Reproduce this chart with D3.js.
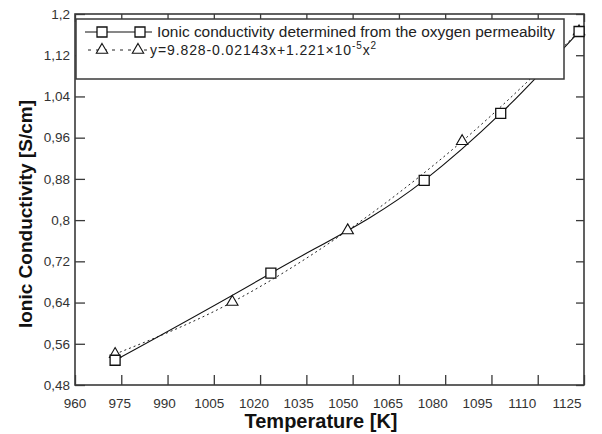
<!DOCTYPE html>
<html><head><meta charset="utf-8">
<script src="https://cdn.jsdelivr.net/npm/d3@7"></script>
<style>
body{margin:0;background:#fff}
svg{display:block}
text{font-family:"Liberation Sans",Arial,Helvetica,sans-serif}
</style>
</head><body><svg id="c" width="602" height="434"></svg>
<script>
// ---- data ----
const measuredT = [973, 1023.5, 1073.2, 1098, 1123.4];
const measuredSigma = [0.528, 0.697, 0.877, 1.007, 1.166];
const fitT = [973, 1011, 1048.4, 1085.5, 1123.4];
const fitSigma = [0.54, 0.641, 0.78, 0.953, 1.166];
const xTicks = [960, 975, 990, 1005, 1020, 1035, 1050, 1065, 1080, 1095, 1110, 1125];
const yTicks = [0.48, 0.56, 0.64, 0.72, 0.8, 0.88, 0.96, 1.04, 1.12, 1.2];
const yTickLabels = ["0,48", "0,56", "0,64", "0,72", "0,8", "0,88", "0,96", "1,04", "1,12", "1,2"];
const legendLabel1 = "Ionic conductivity determined from the oxygen permeabilty";
const legendLabel2 = ["y=9.828-0.02143x+1.221\u00d710", "-5", "x", "2"];
const xTitle = "Temperature [K]";
const yTitle = "Ionic Conductivity [S/cm]";

// ---- layout ----
const L = 75, R = 584, T = 14, B = 385;
const svg = d3.select("#c");
svg.append("rect").attr("width", 602).attr("height", 434).attr("fill", "#fff");

const x = d3.scaleLinear().domain([960, 1125]).range([L, R]);
const xLab = d3.scaleLinear().domain([960, 1125]).range([L, 567]);
const y = d3.scaleLinear().domain([0.48, 1.2]).range([B, T]);

const axisColor = "#3a3a3a";
function styleAxis(g) {
  g.select(".domain").remove();
  g.selectAll(".tick line").attr("stroke", axisColor).attr("stroke-width", 1.3);
}

svg.append("g").attr("transform", `translate(0,${B})`)
  .call(d3.axisBottom(x).tickValues(xTicks).tickSize(-10).tickFormat(""))
  .call(styleAxis);
svg.append("g").attr("transform", `translate(0,${T})`)
  .call(d3.axisTop(x).tickValues(xTicks).tickSize(-8).tickFormat(""))
  .call(styleAxis);
svg.append("g").attr("transform", `translate(${L},0)`)
  .call(d3.axisLeft(y).tickValues(yTicks).tickSize(-10).tickPadding(5)
    .tickFormat((d, i) => yTickLabels[i]))
  .call(styleAxis)
  .call(g => g.selectAll("text").attr("fill", "#333").attr("font-size", 13.5)
    .style("font-family", '"Liberation Sans",Arial,sans-serif'));
svg.append("g").attr("transform", `translate(${R},0)`)
  .call(d3.axisRight(y).tickValues(yTicks).tickSize(-8).tickFormat(""))
  .call(styleAxis);

// x tick labels
svg.append("g").selectAll("text").data(xTicks).join("text")
  .attr("x", d => xLab(d)).attr("y", 408)
  .attr("text-anchor", "middle").attr("font-size", 13.5).attr("fill", "#333")
  .text(d => d);

// frame
svg.append("rect").attr("x", L).attr("y", T).attr("width", R - L).attr("height", B - T)
  .attr("fill", "none").attr("stroke", axisColor).attr("stroke-width", 1.6);

// ---- series ----
const curve = d3.line().x(d => x(d[0])).y(d => y(d[1])).curve(d3.curveMonotoneX);
const mData = measuredT.map((t, i) => [t, measuredSigma[i]]);
const fData = fitT.map((t, i) => [t, fitSigma[i]]);

svg.append("path").datum(fData).attr("d", curve)
  .attr("fill", "none").attr("stroke", "#222").attr("stroke-width", 1)
  .attr("stroke-dasharray", "2,3");
svg.append("path").datum(mData).attr("d", curve)
  .attr("fill", "none").attr("stroke", "#111").attr("stroke-width", 1.1);

const sq = d3.symbol().type(d3.symbolSquare).size(100);
const tri = d3.symbol().type(d3.symbolTriangle).size(56);

svg.append("g").selectAll("path").data(fData).join("path")
  .attr("transform", d => `translate(${x(d[0])},${y(d[1])})`)
  .attr("d", tri).attr("fill", "#fff").attr("stroke", "#111").attr("stroke-width", 1.1);
svg.append("g").selectAll("path").data(mData).join("path")
  .attr("transform", d => `translate(${x(d[0])},${y(d[1])})`)
  .attr("d", sq).attr("fill", "#fff").attr("stroke", "#111").attr("stroke-width", 1.3);

// ---- legend ----
const lg = svg.append("g");
lg.append("rect").attr("x", L + 1).attr("y", 19).attr("width", 564 - L - 1).attr("height", 60)
  .attr("fill", "#fff").attr("stroke", axisColor).attr("stroke-width", 1.5);
const r1 = 32, r2 = 50;
lg.append("line").attr("x1", 85).attr("x2", 152).attr("y1", r1).attr("y2", r1)
  .attr("stroke", "#111").attr("stroke-width", 1.1);
[102, 140].forEach(px => lg.append("path").attr("transform", `translate(${px},${r1})`)
  .attr("d", sq).attr("fill", "#fff").attr("stroke", "#111").attr("stroke-width", 1.3));
lg.append("line").attr("x1", 88).attr("x2", 147).attr("y1", r2).attr("y2", r2)
  .attr("stroke", "#222").attr("stroke-width", 1).attr("stroke-dasharray", "3,5");
[102, 138].forEach(px => lg.append("path").attr("transform", `translate(${px},${r2})`)
  .attr("d", tri).attr("fill", "#fff").attr("stroke", "#111").attr("stroke-width", 1.1));

lg.append("text").attr("x", 157).attr("y", r1 + 5).attr("font-size", 14).attr("fill", "#222")
  .attr("textLength", 398).attr("lengthAdjust", "spacingAndGlyphs").text(legendLabel1);
const t2 = lg.append("text").attr("x", 150).attr("y", r2 + 5).attr("font-size", 14)
  .attr("fill", "#222").attr("letter-spacing", 0.9);
t2.append("tspan").text(legendLabel2[0]);
t2.append("tspan").attr("dy", -6).attr("font-size", 10).text(legendLabel2[1]);
t2.append("tspan").attr("dy", 6).text(legendLabel2[2]);
t2.append("tspan").attr("dy", -6).attr("font-size", 10).text(legendLabel2[3]);

// ---- axis titles ----
svg.append("text").attr("x", 321).attr("y", 428).attr("text-anchor", "middle")
  .attr("font-size", 20).attr("font-weight", "bold").attr("fill", "#111").text(xTitle);
svg.append("text").attr("transform", "translate(32,214) rotate(-90)").attr("text-anchor", "middle")
  .attr("font-size", 19).attr("font-weight", "bold").attr("fill", "#111").text(yTitle);
</script>
</body></html>
